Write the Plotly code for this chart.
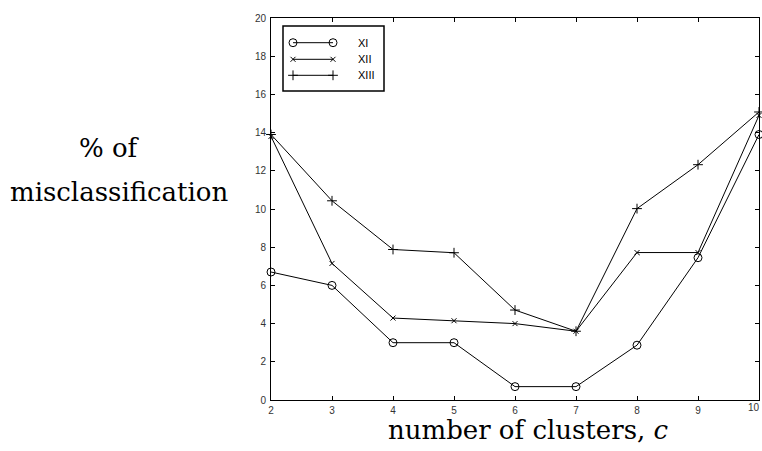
import plotly.graph_objects as go

clusters = [2, 3, 4, 5, 6, 7, 8, 9, 10]
series_names = ["XI", "XII", "XIII"]
xi = [6.7, 6.0, 3.0, 3.0, 0.7, 0.7, 2.87, 7.45, 13.9]
xii = [13.8, 7.15, 4.29, 4.15, 4.0, 3.6, 7.72, 7.72, 14.9]
xiii = [13.9, 10.43, 7.88, 7.71, 4.71, 3.6, 10.02, 12.32, 15.08]
y_ticks = [0, 2, 4, 6, 8, 10, 12, 14, 16, 18, 20]
x_ticks = [2, 3, 4, 5, 6, 7, 8, 9, 10]

W, H = 762, 451
L, R, T, B = 271, 3, 18, 51
pw, ph = W - L - R, H - T - B

def px(x):
    return (x - L) / pw

def py(y):
    return (H - B - y) / ph

symbols = ["circle-open", "x-thin-open", "cross-thin-open"]
sizes = [8, 5, 7]
values = [xi, xii, xiii]

fig = go.Figure()
for name, vals, sym, sz in zip(series_names, values, symbols, sizes):
    fig.add_trace(go.Scatter(
        x=clusters, y=vals, mode="lines+markers", name=name,
        line=dict(color="black", width=1),
        marker=dict(symbol=sym, size=sz, color="black",
                    line=dict(color="black", width=1)),
        showlegend=False, cliponaxis=False))

# custom MATLAB-style legend on an overlay axis (pixel-like coordinates)
leg_x0, leg_x1, leg_y0, leg_y1 = 283, 384, 26, 91
row_y = [42.7, 59.3, 75.3]
for name, sym, sz, ry in zip(series_names, symbols, sizes, row_y):
    fig.add_trace(go.Scatter(
        x=[293, 333], y=[ry, ry], mode="lines+markers", xaxis="x2", yaxis="y2",
        line=dict(color="black", width=1),
        marker=dict(symbol=sym, size=sz, color="black",
                    line=dict(color="black", width=1)),
        showlegend=False, hoverinfo="skip"))
    fig.add_annotation(x=356, y=ry, xref="x2", yref="y2", text=name,
                       showarrow=False, xanchor="left", yanchor="middle",
                       font=dict(family="Liberation Sans", size=11, color="black"))

fig.add_shape(type="rect", xref="paper", yref="paper",
              x0=px(leg_x0), x1=px(leg_x1), y0=py(leg_y1), y1=py(leg_y0),
              line=dict(color="black", width=1.5), fillcolor="rgba(0,0,0,0)")

tickfont = dict(family="Liberation Sans", size=10, color="#333333")
axis_common = dict(showgrid=False, zeroline=False, showline=True,
                   linecolor="black", linewidth=1, mirror="ticks",
                   ticks="inside", ticklen=4, tickcolor="black",
                   tickfont=tickfont)

fig.update_layout(
    width=W, height=H,
    margin=dict(l=L, r=R, t=T, b=B, pad=0),
    paper_bgcolor="white", plot_bgcolor="white",
    xaxis=dict(range=[2, 10], tickvals=x_ticks, ticktext=[str(v) for v in x_ticks[:-1]] + [""],
               ticklabelstandoff=1, **axis_common),
    yaxis=dict(range=[0, 20], tickvals=y_ticks, ticklabelstandoff=2, **axis_common),
    xaxis2=dict(domain=[px(leg_x0), px(leg_x1)], range=[leg_x0, leg_x1],
                visible=False, anchor="y2"),
    yaxis2=dict(domain=[py(leg_y1), py(leg_y0)], range=[leg_y1, leg_y0],
                visible=False, anchor="x2"),
)

# last x tick label, kept just inside the page edge
fig.add_annotation(x=1.0, y=0, xref="paper", yref="y", text=str(x_ticks[-1]),
                   showarrow=False, xanchor="right", yanchor="top", yshift=-1, xshift=2,
                   borderpad=0, font=tickfont)

serif = dict(family="DejaVu Serif", size=26, color="black")
fig.add_annotation(x=px(528), y=py(430), xref="paper", yref="paper",
                   text="number of clusters, <i>c</i>", showarrow=False,
                   xanchor="center", yanchor="middle", font=serif)
fig.add_annotation(x=px(109), y=py(148), xref="paper", yref="paper",
                   text="% of", showarrow=False,
                   xanchor="center", yanchor="middle", font=serif)
fig.add_annotation(x=px(119), y=py(192), xref="paper", yref="paper",
                   text="misclassification", showarrow=False,
                   xanchor="center", yanchor="middle", font=serif)

fig.write_html("out.html")
